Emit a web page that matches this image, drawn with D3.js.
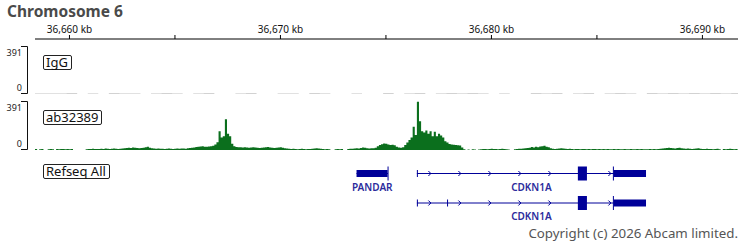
<!DOCTYPE html>
<html>
<head>
<meta charset="utf-8">
<script src="https://cdnjs.cloudflare.com/ajax/libs/d3/7.8.5/d3.min.js"></script>
<style>
  body { margin: 0; background: #fff; }
  text { font-family: "Noto Sans", sans-serif; }
</style>
</head>
<body>
<div class="chart"></div>
<script>
// region shown (kb on chromosome 6)
var regionStart = 36658.39, regionEnd = 36691.71;
var majorTicks = [36660, 36670, 36680, 36690];
var minorTicks = [36665, 36675, 36685];

var trackNames = ["IgG", "ab32389"];
var trackMax = 391;

// IgG signal, 0.5 kb bins from regionStart
var iggStep = 0.5;
var iggValues = [5,4,5,6,0,5,0,6,5,5, 0,4,6,5,0,5,6,0,0,5,
                 6,0,0,5,4,0,6,5,0,0, 5,0,0,6,0,5,6,0,5,6,
                 5,6,5,0,5,0,0,6,5,6, 0,5,6,0,5,6,5,0,6,5,
                 6,5,6,5,6,5,6];

// ab32389 signal, 0.1 kb bins from regionStart
var abStep = 0.1;
var abValues = [
  8,0,6,8,0,0,6,8,6,0,
  8,6,8,8,6,8,6,8,0,0,
  0,0,0,0,6,8,8,10,8,8,
  8,10,8,12,10,8,10,12,10,8,
  10,12,14,16,18,16,20,18,16,14,
  16,18,22,26,18,14,12,10,12,10,
  10,8,10,12,10,8,10,12,10,12,
  12,10,14,16,18,20,24,26,28,30,
  26,26,28,30,34,44,62,150,100,110,
  245,130,110,50,30,24,22,22,20,22,
  20,18,20,22,20,18,16,18,20,22,
  24,20,18,16,18,20,22,18,14,12,
  10,8,10,8,6,8,10,8,6,8,
  8,10,12,14,12,10,8,6,8,6,
  0,0,6,8,6,8,0,0,8,10,
  10,12,14,12,16,20,18,14,12,14,
  14,18,30,40,46,52,50,44,40,42,
  38,26,20,18,22,40,60,80,100,185,
  120,385,230,150,140,155,130,150,110,145,
  110,130,115,100,70,60,48,44,42,40,
  38,35,20,6,0,4,0,6,4,0,
  4,6,8,8,6,8,10,8,8,6,
  8,10,8,6,4,0,0,6,8,10,
  10,12,14,16,18,24,20,26,22,28,
  30,34,26,22,14,10,8,10,12,14,
  12,10,8,10,8,6,8,8,6,8,
  8,6,8,6,8,8,6,8,6,8,
  6,8,6,6,8,6,8,6,6,8,
  6,6,8,6,6,8,6,8,6,6,
  6,8,6,8,6,8,10,12,14,16,
  18,16,14,12,16,18,14,12,10,12,
  10,8,10,12,14,10,8,8,10,8,
  8,6,8,10,6,0,8,6,8,10,
  8,6,8
];

// Refseq features (kb)
var geneNames = ["PANDAR", "CDKN1A", "CDKN1A"];
var geneStarts = [36673.63, 36676.49, 36676.49];
var geneEnds = [36675.12, 36687.35, 36687.35];
var geneStrands = ["", "+", "+"];
// exons: [start, end, coding]
var geneExons = [
  [[36673.63, 36675.10, false], [36675.10, 36675.12, true]],
  [[36676.49, 36676.53, false], [36684.12, 36684.55, true], [36685.78, 36685.82, true], [36685.82, 36687.35, false]],
  [[36676.49, 36676.53, false], [36677.92, 36677.96, false], [36684.12, 36684.55, true], [36685.78, 36685.82, true], [36685.82, 36687.35, false]]
];

var width = 750, height = 241;
var svg = d3.select(".chart").append("svg")
  .attr("width", width)
  .attr("height", height);

var x = d3.scaleLinear().domain([regionStart, regionEnd]).range([35, 738]);

svg.append("text")
  .attr("x", 7).attr("y", 17)
  .attr("font-size", 15.5).attr("font-weight", "bold")
  .attr("fill", "#4a4a4a")
  .text("Chromosome 6");

// ruler
var ruler = svg.append("g").attr("transform", "translate(0,39)");
ruler.call(d3.axisTop(x).tickValues(majorTicks.concat(minorTicks)).tickSizeOuter(0).tickSizeInner(4)
  .tickFormat(function(d) { return majorTicks.indexOf(d) >= 0 ? d3.format(",")(d) + " kb" : ""; }));
ruler.select(".domain").attr("d", "M35,0H738");
ruler.selectAll("text").attr("font-family", "Noto Sans").attr("font-size", 10).attr("fill", "#111").attr("dy", "0.5px");

// data tracks
var trackTops = [46, 101], trackBottoms = [94, 150];
var trackData = [
  iggValues.map(function(v, i) { return {s: regionStart + i * iggStep, v: v}; }),
  abValues.map(function(v, i) { return {s: regionStart + i * abStep, v: v}; })
];
var trackSteps = [iggStep, abStep];
var trackColors = ["#c4c4c4", "#0b6f1d"];

trackNames.forEach(function(name, t) {
  var g = svg.append("g");
  var y = d3.scaleLinear().domain([0, trackMax]).range([trackBottoms[t], trackTops[t]]);
  var pts = trackData[t].slice();
  var last = pts[pts.length - 1];
  pts.push({s: last.s + trackSteps[t], v: last.v});

  g.append("path")
    .datum(pts)
    .attr("fill", trackColors[t])
    .attr("d", d3.area()
      .curve(d3.curveStepAfter)
      .x(function(d) { return x(Math.min(d.s, regionEnd)); })
      .y0(y(0))
      .y1(function(d) { return y(d.v); }));

  // range bracket
  g.append("path")
    .attr("fill", "none").attr("stroke", "#111").attr("stroke-width", 1)
    .attr("d", "M21," + (trackTops[t] + 0.5) + "H27.5V" + (trackBottoms[t] - 0.5) + "H21");
  g.append("text").attr("x", 22).attr("y", y(trackMax) + 10)
    .attr("text-anchor", "end").attr("font-size", 9).attr("fill", "#222").text(trackMax);
  g.append("text").attr("x", 22).attr("y", y(0) - 3)
    .attr("text-anchor", "end").attr("font-size", 9).attr("fill", "#222").text("0");

  trackLabel(43, trackTops[t] + 9, name);
});

function trackLabel(lx, ly, name) {
  var lab = svg.append("g");
  var txt = lab.append("text").attr("x", lx + 3).attr("y", ly + 12)
    .attr("font-size", 13).attr("fill", "#111").text(name);
  var w = txt.node().getComputedTextLength();
  lab.insert("rect", "text")
    .attr("x", lx + 0.5).attr("y", ly + 0.5)
    .attr("width", Math.round(w) + 6).attr("height", 14)
    .attr("rx", 1.5)
    .attr("fill", "#fff").attr("stroke", "#222");
}

// refseq track
trackLabel(43, 164, "Refseq All");

var geneRows = [173.5, 173.5, 203];
var geneColor = "#000099";
geneNames.forEach(function(name, i) {
  var g = svg.append("g");
  var cy = geneRows[i];
  var x0 = x(geneStarts[i]), x1 = x(geneEnds[i]);
  g.append("line").attr("x1", x0).attr("x2", x1).attr("y1", cy).attr("y2", cy)
    .attr("stroke", geneColor).attr("stroke-width", 1);
  if (geneStrands[i] === "+") {
    for (var ax = x0 + 13; ax < x1; ax += 30) {
      var inExon = geneExons[i].some(function(e) { return ax >= x(e[0]) - 2 && ax <= x(e[1]) + 2; });
      if (inExon) continue;
      g.append("path").attr("fill", "none").attr("stroke", geneColor).attr("stroke-width", 1)
        .attr("d", "M" + (ax - 1.5) + "," + (cy - 2.5) + "L" + (ax + 1) + "," + cy + "L" + (ax - 1.5) + "," + (cy + 2.5));
    }
  }
  geneExons[i].forEach(function(e) {
    var h = e[2] ? 14 : 7;
    var ex0 = x(e[0]), ex1 = x(e[1]);
    g.append("rect")
      .attr("x", ex0).attr("width", Math.max(1, ex1 - ex0))
      .attr("y", cy - h / 2).attr("height", h)
      .attr("fill", geneColor);
  });
  g.append("text")
    .attr("x", (x0 + x1) / 2).attr("y", cy + 17)
    .attr("text-anchor", "middle").attr("font-size", 10).attr("font-weight", 600)
    .attr("fill", "#2b2b9c")
    .text(name);
});

svg.append("text")
  .attr("x", 738).attr("y", 238)
  .attr("text-anchor", "end").attr("font-size", 13.3).attr("fill", "#555")
  .text("Copyright (c) 2026 Abcam limited.");
</script>
</body>
</html>
